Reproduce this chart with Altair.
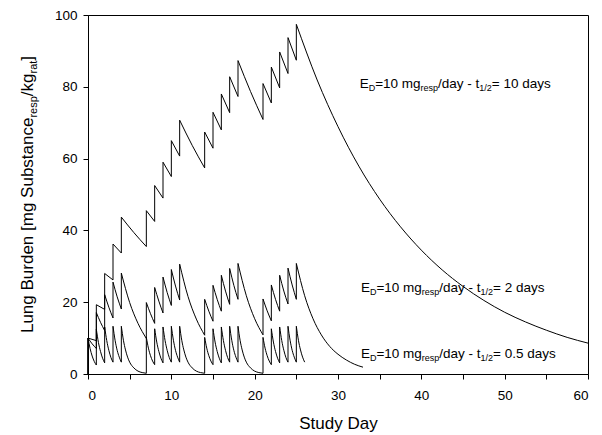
import altair as alt
import pandas as pd

# ---- data (day, lung burden in mg) ----
# t1/2 = 10 days
t10_day = [0, 0, 1, 1, 2, 2, 3, 3, 4, 4, 5.5, 7,
           7, 8, 8, 9, 9, 10, 10, 11, 11, 12.5, 14,
           14, 15, 15, 16, 16, 17, 17, 18, 18, 19.5, 21,
           21, 22, 22, 23, 23, 24, 24, 25, 25,
           27.5, 30, 32.5, 35, 37.5, 40, 42.5, 45, 47.5, 50, 52.5, 55, 57.5, 60]
t10_mg = [0, 10, 9.3, 19.3, 18.0, 28.0, 26.2, 36.2, 33.7, 43.7, 39.4, 35.5,
          45.5, 42.5, 52.5, 49.0, 59.0, 55.0, 65.0, 60.7, 70.7, 63.7, 57.4,
          67.4, 62.9, 72.9, 68.0, 78.0, 72.8, 82.8, 77.3, 87.3, 78.7, 70.9,
          80.9, 75.5, 85.5, 79.7, 89.7, 83.7, 93.7, 87.4, 97.4,
          81.9, 68.9, 57.9, 48.7, 41.0, 34.5, 29.0, 24.4, 20.5, 17.2, 14.5, 12.2, 10.2, 8.6]

# t1/2 = 2 days
t2_day = [0, 0, 0.5, 1, 1, 1.5, 2, 2, 2.5, 3, 3, 3.5, 4, 4, 5, 6, 7,
          7, 7.5, 8, 8, 8.5, 9, 9, 9.5, 10, 10, 10.5, 11, 11, 12, 13, 14,
          14, 14.5, 15, 15, 15.5, 16, 16, 16.5, 17, 17, 17.5, 18, 18, 19, 20, 21,
          21, 21.5, 22, 22, 22.5, 23, 23, 23.5, 24, 24, 24.5, 25, 25,
          26, 27, 28, 29, 30, 31, 32, 33]
t2_mg = [0, 10, 8.4, 7.1, 17.1, 14.4, 12.1, 22.1, 18.6, 15.6, 25.6, 21.5, 18.1, 28.1, 19.9, 14.1, 9.9,
         19.9, 16.8, 14.1, 24.1, 20.3, 17.0, 27.0, 22.7, 19.1, 29.1, 24.5, 20.6, 30.6, 21.6, 15.3, 10.8,
         20.8, 17.5, 14.7, 24.7, 20.8, 17.5, 27.5, 23.1, 19.4, 29.4, 24.7, 20.8, 30.8, 21.8, 15.4, 10.9,
         20.9, 17.6, 14.8, 24.8, 20.8, 17.5, 27.5, 23.1, 19.5, 29.5, 24.8, 20.8, 30.8,
         21.8, 15.4, 10.9, 7.7, 5.5, 3.9, 2.7, 1.9]

# t1/2 = 0.5 days
t05_day = [0, 0, 0.25, 0.5, 0.75, 1, 1, 1.25, 1.5, 1.75, 2, 2, 2.25, 2.5, 2.75, 3,
           3, 3.25, 3.5, 3.75, 4, 4, 4.25, 4.5, 4.75, 5, 5.5, 6, 6.5, 7,
           7, 7.25, 7.5, 7.75, 8, 8, 8.25, 8.5, 8.75, 9, 9, 9.25, 9.5, 9.75, 10,
           10, 10.25, 10.5, 10.75, 11, 11, 11.25, 11.5, 11.75, 12, 12.5, 13, 13.5, 14,
           14, 14.25, 14.5, 14.75, 15, 15, 15.25, 15.5, 15.75, 16, 16, 16.25, 16.5, 16.75, 17,
           17, 17.25, 17.5, 17.75, 18, 18, 18.25, 18.5, 18.75, 19, 19.5, 20, 20.5, 21,
           21, 21.25, 21.5, 21.75, 22, 22, 22.25, 22.5, 22.75, 23, 23, 23.25, 23.5, 23.75, 24,
           24, 24.25, 24.5, 24.75, 25, 25, 25.25, 25.5, 25.75, 26]
t05_mg = [0, 10, 7.1, 5.0, 3.5, 2.5, 12.5, 8.8, 6.3, 4.4, 3.1, 13.1, 9.3, 6.6, 4.6, 3.3,
          13.3, 9.4, 6.6, 4.7, 3.3, 13.3, 9.4, 6.7, 4.7, 3.3, 1.7, 0.8, 0.4, 0.2,
          10.2, 7.2, 5.1, 3.6, 2.6, 12.6, 8.9, 6.3, 4.4, 3.1, 13.1, 9.3, 6.6, 4.6, 3.3,
          13.3, 9.4, 6.6, 4.7, 3.3, 13.3, 9.4, 6.7, 4.7, 3.3, 1.7, 0.8, 0.4, 0.2,
          10.2, 7.2, 5.1, 3.6, 2.6, 12.6, 8.9, 6.3, 4.4, 3.1, 13.1, 9.3, 6.6, 4.6, 3.3,
          13.3, 9.4, 6.6, 4.7, 3.3, 13.3, 9.4, 6.7, 4.7, 3.3, 1.7, 0.8, 0.4, 0.2,
          10.2, 7.2, 5.1, 3.6, 2.6, 12.6, 8.9, 6.3, 4.4, 3.1, 13.1, 9.3, 6.6, 4.6, 3.3,
          13.3, 9.4, 6.6, 4.7, 3.3, 13.3, 9.4, 6.7, 4.7, 3.3]

x_ticks = [0, 5, 10, 15, 20, 25, 30, 35, 40, 45, 50, 55, 60]
y_ticks = [0, 10, 20, 30, 40, 50, 60, 70, 80, 90, 100]

ann_day = [32.6, 32.75, 32.75]
ann_mg = [79.8, 22.8, 4.4]
ann_tail = ["= 10 days", "= 2 days", "= 0.5 days"]

FONT = "Liberation Sans"

# Arial / Liberation Sans advance widths (per 1000 em)
W = {"E": 667, "D": 722, "=": 584, "1": 556, "0": 556, " ": 278, "m": 833, "g": 556,
     "r": 333, "e": 556, "s": 500, "p": 556, "/": 278, "d": 556, "a": 556, "y": 500,
     "-": 333, "t": 278, ".": 278, "2": 556, "5": 556, "L": 556, "u": 556, "n": 556,
     "B": 667, "[": 278, "S": 667, "b": 556, "c": 500, "k": 500, "]": 278}


def tw(s, size):
    return sum(W[c] for c in s) * size / 1000.0


# ---- build tables ----
line_rows, jump_rows = [], []
for name, days, vals in [("10", t10_day, t10_mg), ("2", t2_day, t2_mg), ("0.5", t05_day, t05_mg)]:
    seg = 0
    for i, (d, v) in enumerate(zip(days, vals)):
        if i > 0 and d == days[i - 1]:
            jump_rows.append({"curve": name, "day": d, "lo": vals[i - 1], "hi": v})
            seg += 1
        line_rows.append({"curve": name, "seg": f"{name}-{seg}", "day": d, "mg": v})

lines_df = pd.DataFrame(line_rows)
jumps_df = pd.DataFrame(jump_rows)
ann_df = pd.DataFrame({"x": ann_day, "y": ann_mg, "tail": ann_tail})

xs = alt.Scale(domain=[0, 60], nice=False)
ys = alt.Scale(domain=[0, 100], nice=False)

lines = alt.Chart(lines_df).mark_line(
    interpolate="monotone", color="black", strokeWidth=1
).encode(
    x=alt.X("day:Q", scale=xs,
            axis=alt.Axis(values=x_ticks, title="Study Day",
                          labelExpr="datum.value % 10 === 0 ? datum.label : ''",
                          labelPadding=9, titlePadding=14)),
    y=alt.Y("mg:Q", scale=ys,
            axis=alt.Axis(values=y_ticks, title=None,
                          labelExpr="datum.value % 20 === 0 ? datum.label : ''",
                          labelPadding=6)),
    detail="seg:N",
)

jumps = alt.Chart(jumps_df).mark_rule(color="black", strokeWidth=1).encode(
    x="day:Q", y="lo:Q", y2="hi:Q"
)

# ---- annotations with subscripts ----
MAIN, SUB, SUBDY = 13.5, 9, 3
segments = [("E", False), ("D", True), ("=10 mg", False), ("resp", True),
            ("/day - t", False), ("1/2", True), (None, False)]
ann_layers = []
off = 0.0
for txt, sub in segments:
    size = SUB if sub else MAIN
    kw = dict(align="left", baseline="alphabetic", font=FONT, fontSize=size,
              color="black", dx=off, dy=SUBDY if sub else 0)
    if txt is None:
        layer = alt.Chart(ann_df).mark_text(**kw).encode(x="x:Q", y="y:Q", text="tail:N")
    else:
        layer = alt.Chart(ann_df).mark_text(text=txt, **kw).encode(x="x:Q", y="y:Q")
        off += tw(txt, size)
    ann_layers.append(layer)

# ---- rotated y-axis title with subscripts ----
TMAIN, TSUB = 17, 11
title_segments = [("Lung Burden [mg Substance", False), ("resp", True), ("/kg", False),
                  ("rat", True), ("]", False)]
total = sum(tw(t, TSUB if s else TMAIN) for t, s in title_segments)
one = pd.DataFrame({"k": [0]})
title_layers = []
off = 0.0
for txt, sub in title_segments:
    size = TSUB if sub else TMAIN
    title_layers.append(
        alt.Chart(one).mark_text(
            text=txt, angle=270, align="left", baseline="alphabetic", font=FONT,
            fontSize=size, color="black", dx=off, dy=4 if sub else 0
        ).encode(x=alt.value(-55), y=alt.value(179.5 + total / 2))
    )
    off += tw(txt, size)

chart = alt.layer(lines, jumps, *ann_layers, *title_layers).properties(
    width=500, height=359,
    autosize=alt.AutoSizeParams(type="none"),
    padding={"left": 80, "top": 7, "right": 6, "bottom": 60},
).configure_view(
    stroke="black", strokeWidth=1
).configure_axis(
    labelFont=FONT, labelFontSize=13.5, labelColor="black",
    titleFont=FONT, titleFontSize=17, titleFontWeight="normal", titleColor="black",
    tickColor="black", domainColor="black", tickSize=5, grid=False,
)

chart.save("out.html", embed_options={"renderer": "svg", "actions": False})
